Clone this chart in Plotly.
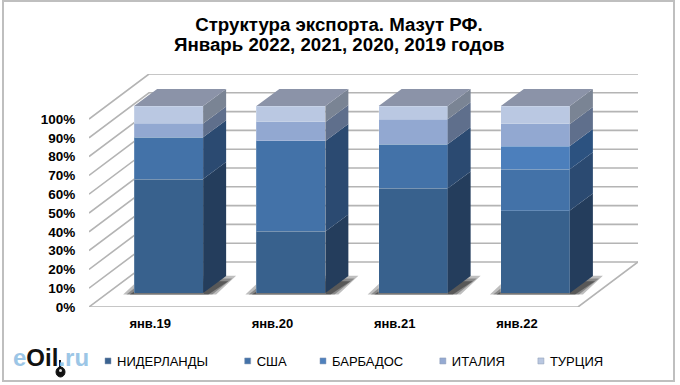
import plotly.graph_objects as go

# ---- data ----
periods = ["янв.19", "янв.20", "янв.21", "янв.22"]
niderlandy = [60.9, 32.9, 55.9, 44.1]
ssha = [22.4, 48.4, 23.6, 22.1]
barbados = [0, 0, 0, 12.4]
italia = [7.4, 10.2, 13.4, 11.8]
turcia = [9.3, 8.5, 7.1, 9.6]
names = ["НИДЕРЛАНДЫ", "США", "БАРБАДОС", "ИТАЛИЯ", "ТУРЦИЯ"]
legend_pad = ["\u00a0", "", "\u00a0", "", ""]
series = [niderlandy, ssha, barbados, italia, turcia]
front = ["#38618D", "#4372A8", "#4C7FBC", "#92A8D1", "#BAC8E2"]
side = ["#243D5C", "#2B4A71", "#2C5280", "#5F6F8C", "#7A8494"]
top_face = "#8B93A8"
legend_col = ["#3B6390", "#4372A8", "#4F81BD", "#95AAD2", "#B9C7E0"]
tick_vals = list(range(0, 101, 10))
tick_text = [f"{v}%" for v in tick_vals]
title_lines = ["Структура экспорта. Мазут РФ.", "Январь 2022, 2021, 2020, 2019 годов"]

# ---- page geometry ----
W, H = 680, 385
L, R, T, B = 89, 638, 74, 307
PX_X = 122.25          # pixels per category slot
PX_Y = 1.88            # pixels per percent on the walls
PX_BAR = 1.87          # pixels per percent on the bars
BAR_FLOOR = 293        # pixel row of the bars' zero
x_range = [-0.5, -0.5 + (R - L) / PX_X]
y_range = [0, (B - T) / PX_Y]
y2_range = [-(B - BAR_FLOOR) / PX_BAR, (BAR_FLOOR - T) / PX_BAR]
BAR_W = 69 / PX_X
BAR_SHIFT_X = 18.5 / PX_X
BAR_SHIFT_Y = (B - BAR_FLOOR) / PX_Y
DEPTH_X, DEPTH_Y = 23 / PX_X, 17 / PX_BAR
WALL_X, WALL_Y = 60 / PX_X, 45 / PX_Y


def paper_x(px):
    return (px - L) / (R - L)


def paper_y(py):
    return (B - py) / (B - T)


fig = go.Figure()
idx = list(range(len(periods)))

# wall gridlines and floor
xs, ys = [], []
for v in tick_vals:
    xs += [x_range[0], x_range[0] + WALL_X, x_range[1], None]
    ys += [v, v + WALL_Y, v + WALL_Y, None]
xs += [x_range[1], x_range[1] - WALL_X, x_range[0]]
ys += [WALL_Y, 0, 0]
fig.add_trace(go.Scatter(x=xs, y=ys, mode="lines", showlegend=False, hoverinfo="skip",
                         cliponaxis=False, line=dict(color="#B4B4B4", width=1.6)))

# soft shadows on the floor (main axes, under the bars)
for grow, alpha in [(1.0, 0.3), (0.7, 0.35), (0.4, 0.5)]:
    sx, sy = [], []
    for i in idx:
        c = i + BAR_SHIFT_X
        a = c - BAR_W / 2 - grow * 11 / PX_X
        b = c + BAR_W / 2 + grow * 13 / PX_X
        y0 = BAR_SHIFT_Y - 0.8
        y1 = y0 + 10 * (0.5 + grow / 2)
        sx += [a, b, b + 20 / PX_X, a + 20 / PX_X, a, None]
        sy += [y0, y0, y1, y1, y0, None]
    fig.add_trace(go.Scatter(x=sx, y=sy, mode="lines", fill="toself", showlegend=False,
                             hoverinfo="skip", line=dict(width=0),
                             fillcolor=f"rgba(40,40,40,{alpha})"))

# bars
for name, vals, col in zip(names, series, front):
    fig.add_trace(go.Bar(x=idx, y=vals, name=name, width=BAR_W, xaxis="x2", yaxis="y2",
                         showlegend=False, marker=dict(color=col, line=dict(color="rgba(255,255,255,0.18)", width=1))))

# side faces
base = [0.0] * 4
for vals, col in zip(series, side):
    sx, sy = [], []
    for i in idx:
        if vals[i] <= 0:
            continue
        r = i + BAR_W / 2
        b0, b1 = base[i], base[i] + vals[i]
        sx += [r, r + DEPTH_X, r + DEPTH_X, r, r, None]
        sy += [b0, b0 + DEPTH_Y, b1 + DEPTH_Y, b1, b0, None]
    fig.add_trace(go.Scatter(x=sx, y=sy, mode="lines", fill="toself", xaxis="x2", yaxis="y2",
                             showlegend=False, hoverinfo="skip", line=dict(width=0), fillcolor=col))
    base = [b + v for b, v in zip(base, vals)]

# top faces
sx, sy = [], []
for i in idx:
    l, r = i - BAR_W / 2, i + BAR_W / 2
    sx += [l, r, r + DEPTH_X, l + DEPTH_X, l, None]
    sy += [base[i], base[i], base[i] + DEPTH_Y, base[i] + DEPTH_Y, base[i], None]
fig.add_trace(go.Scatter(x=sx, y=sy, mode="lines", fill="toself", xaxis="x2", yaxis="y2",
                         showlegend=False, hoverinfo="skip", line=dict(width=0), fillcolor=top_face))

# legend entries
for name, pad, col in zip(names, legend_pad, legend_col):
    fig.add_trace(go.Scatter(x=[None], y=[None], mode="markers", name=name + pad,
                             marker=dict(symbol="square", size=6, color=col,
                                         line=dict(color="#8A9BB5", width=0.5))))

FONT = "Liberation Sans, Arial, sans-serif"
fig.update_layout(
    width=W, height=H, margin=dict(l=L, r=W - R, t=T, b=H - B, autoexpand=False),
    paper_bgcolor="white", plot_bgcolor="white", barmode="stack",
    font=dict(family=FONT, color="#000000"),
    title=dict(text=f"<b>{title_lines[0]}</b>",
               x=0.4985, xanchor="center", xref="container", yref="container",
               y=1 - 24 / H, yanchor="middle", font=dict(size=18.7, family=FONT)),
    xaxis=dict(range=x_range, tickvals=idx, ticktext=periods, showgrid=False, zeroline=False,
               ticks="outside", ticklen=4, tickcolor="rgba(0,0,0,0)",
               tickfont=dict(size=13, family=FONT, weight="bold")),
    yaxis=dict(range=y_range, tickvals=tick_vals, ticktext=tick_text, showgrid=False, zeroline=False,
               ticks="outside", ticklen=10, tickcolor="rgba(0,0,0,0)",
               tickfont=dict(size=13.5, family=FONT, weight="bold")),
    xaxis2=dict(range=[r - BAR_SHIFT_X for r in x_range], overlaying="x", visible=False),
    yaxis2=dict(range=y2_range, overlaying="y", visible=False),
    legend=dict(orientation="h", traceorder="normal", x=paper_x(77), y=paper_y(346), yanchor="top",
                xanchor="left", font=dict(size=13, family=FONT), bgcolor="rgba(0,0,0,0)", itemwidth=30),
    shapes=[
        dict(type="rect", xref="paper", yref="paper",
             x0=paper_x(3), x1=paper_x(674), y0=paper_y(381), y1=paper_y(1),
             line=dict(color="#BFBFBF", width=2), fillcolor="rgba(0,0,0,0)", layer="below"),
        dict(type="line", xref="paper", yref="paper", x0=paper_x(60), x1=paper_x(60),
             y0=paper_y(360), y1=paper_y(368), line=dict(color="#111111", width=2)),
        dict(type="circle", xref="paper", yref="paper", x0=paper_x(56), x1=paper_x(65),
             y0=paper_y(367), y1=paper_y(377), line=dict(color="#111111", width=1), fillcolor="#111111"),
        dict(type="circle", xref="paper", yref="paper", x0=paper_x(59), x1=paper_x(62),
             y0=paper_y(369), y1=paper_y(372), line=dict(width=0), fillcolor="#DDDDDD"),
    ],
    annotations=[
        dict(text=f"<b>{title_lines[1]}</b>", xref="paper", yref="paper",
             x=paper_x(339), y=paper_y(44), xanchor="center", yanchor="middle", showarrow=False,
             font=dict(size=18.7, family=FONT)),
        dict(text='<b><span style="color:#9CC6E6">e</span><span style="color:#111111">Oil</span>'
                  '<span style="color:#9CC6E6">.ru</span></b>',
             xref="paper", yref="paper", x=paper_x(11), y=paper_y(357),
             xanchor="left", yanchor="middle", showarrow=False,
             font=dict(size=24, family=FONT)),
    ],
)
fig.write_html("out.html", config={"displayModeBar": False},
               post_script="document.body.style.margin='0';document.body.style.overflow='hidden';"
                           "document.querySelectorAll('.legendsymbols').forEach("
                           "e=>e.setAttribute('transform','translate(11,0)'));")
